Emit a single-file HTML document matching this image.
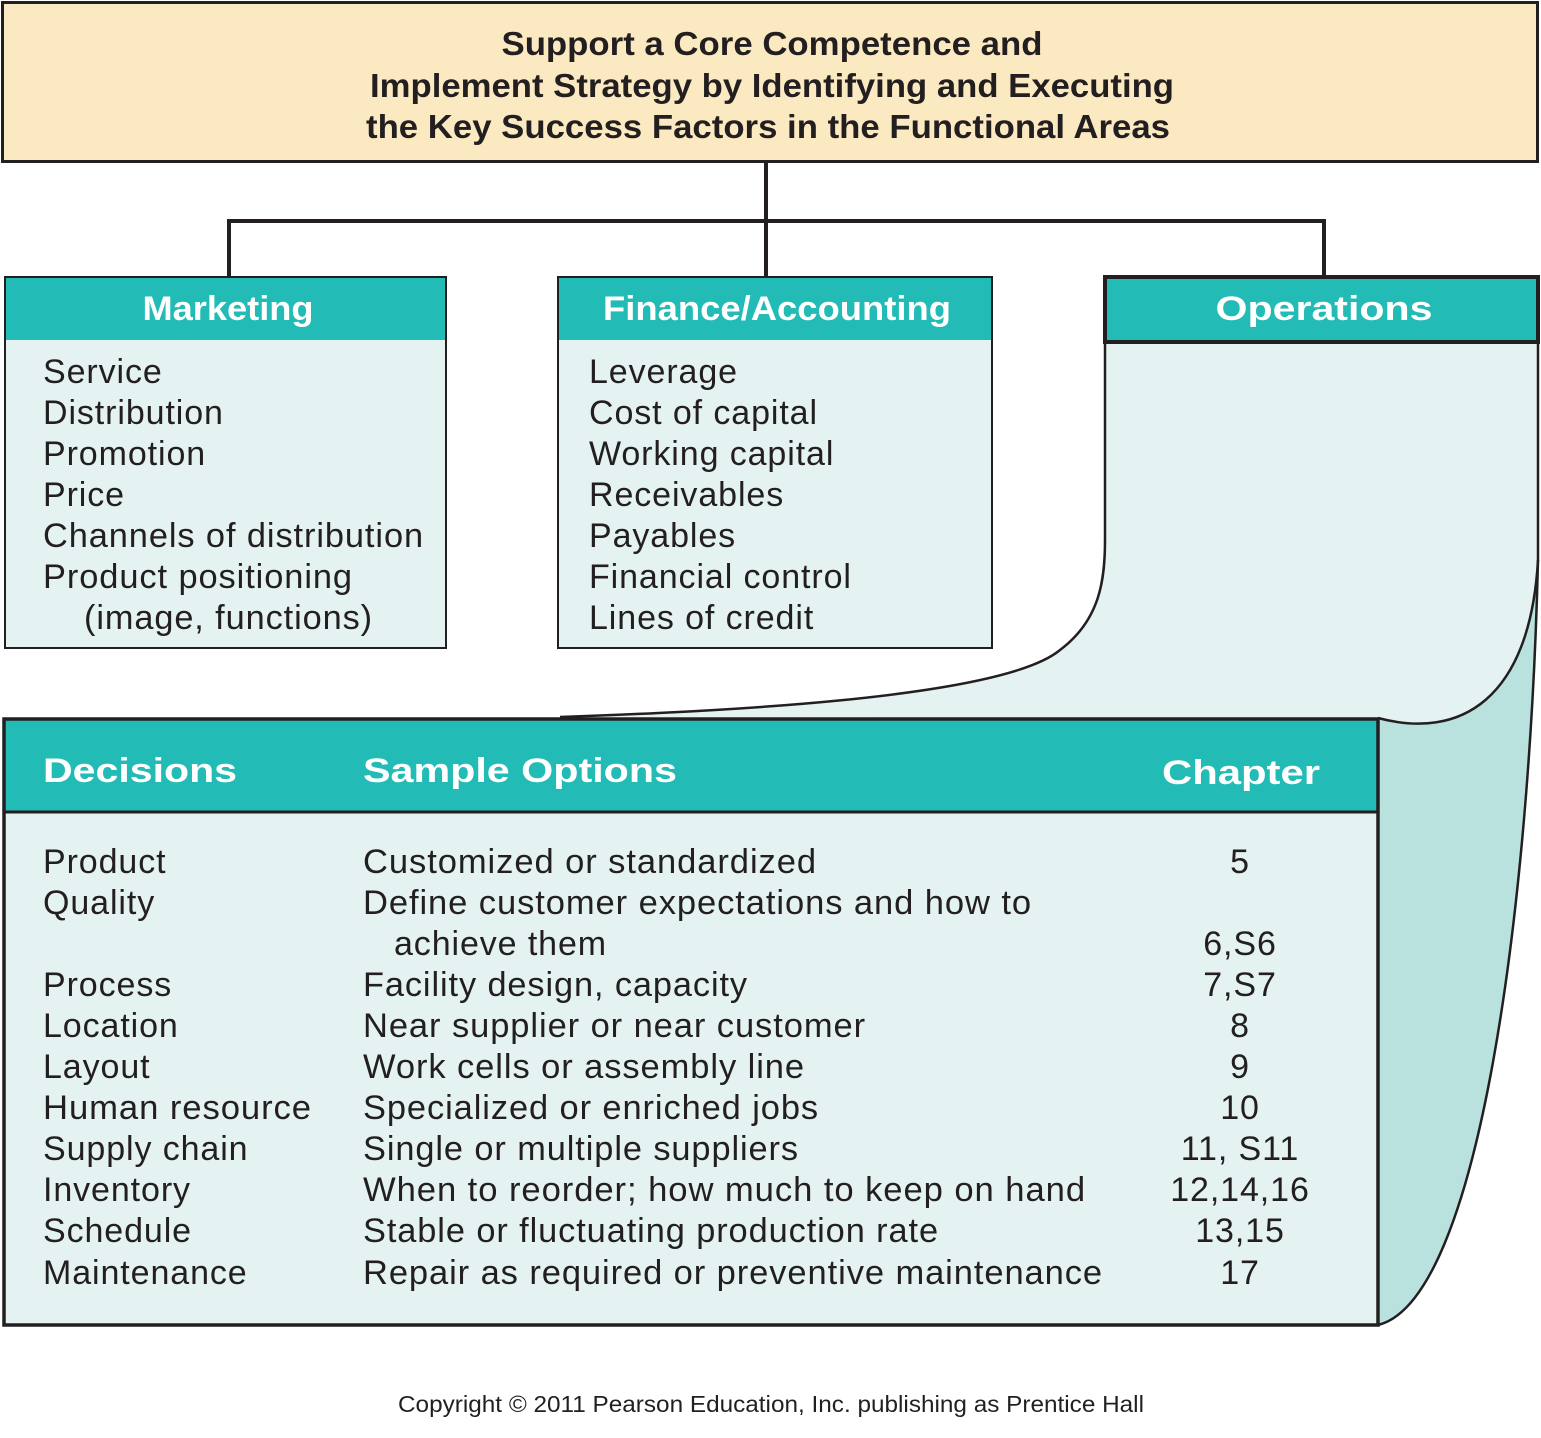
<!DOCTYPE html>
<html><head><meta charset="utf-8"><style>
html,body{margin:0;padding:0;background:#fff;}
svg{display:block;}
text{font-family:"Liberation Sans",Arial,sans-serif;fill:#231f20;}
.b{font-size:34px;letter-spacing:0.9px;}
.h{font-weight:bold;fill:#fff;font-size:34px;}
.t{font-weight:bold;font-size:33px;}
</style></head><body>
<svg width="1541" height="1438" viewBox="0 0 1541 1438" xmlns="http://www.w3.org/2000/svg">
<rect x="2.5" y="2.5" width="1535" height="159" fill="#fbeac1" stroke="#231f20" stroke-width="3"/>
<text class="t" x="772" y="55" text-anchor="middle" textLength="541" lengthAdjust="spacingAndGlyphs">Support a Core Competence and</text>
<text class="t" x="772" y="97" text-anchor="middle" textLength="804" lengthAdjust="spacingAndGlyphs">Implement Strategy by Identifying and Executing</text>
<text class="t" x="768" y="138" text-anchor="middle" textLength="804" lengthAdjust="spacingAndGlyphs">the Key Success Factors in the Functional Areas</text>
<path d="M766,162 V276 M229,276 V221 H1324 V276" fill="none" stroke="#231f20" stroke-width="4"/>
<path d="M1105,342 H1538 V560 C1530,700 1460,740 1378,718 L560,717 C700,712 1000,700 1060,650 C1100,620 1105,580 1105,540 Z" fill="#e4f2f2"/>
<path d="M1378,718 C1460,740 1530,700 1538,560 C1530,900 1480,1300 1378,1325 Z" fill="#b9e2df"/>
<path d="M1105,342 V540 C1105,580 1100,620 1060,650 C1000,700 700,712 560,717" fill="none" stroke="#231f20" stroke-width="2.5"/>
<path d="M1538,342 V560 C1530,700 1460,740 1378,718" fill="none" stroke="#231f20" stroke-width="2.5"/>
<path d="M1538,560 C1530,900 1480,1300 1378,1325" fill="none" stroke="#231f20" stroke-width="2.5"/>
<rect x="1105" y="277" width="433" height="65" fill="#22bbb5" stroke="#231f20" stroke-width="4"/>
<text class="h" x="1324" y="320" text-anchor="middle" textLength="217" lengthAdjust="spacingAndGlyphs">Operations</text>
<rect x="5" y="277" width="441" height="371" fill="#e4f2f2"/>
<rect x="5" y="277" width="441" height="63" fill="#22bbb5"/>
<rect x="5" y="277" width="441" height="371" fill="none" stroke="#231f20" stroke-width="2"/>
<text class="h" x="228" y="320" text-anchor="middle" textLength="171" lengthAdjust="spacingAndGlyphs">Marketing</text>
<text class="b" x="43" y="383">Service</text>
<text class="b" x="43" y="424">Distribution</text>
<text class="b" x="43" y="465">Promotion</text>
<text class="b" x="43" y="506">Price</text>
<text class="b" x="43" y="547" textLength="381" lengthAdjust="spacingAndGlyphs">Channels of distribution</text>
<text class="b" x="43" y="588" textLength="310" lengthAdjust="spacingAndGlyphs">Product positioning</text>
<text class="b" x="84" y="629" textLength="289" lengthAdjust="spacingAndGlyphs">(image, functions)</text>
<rect x="558" y="277" width="434" height="371" fill="#e4f2f2"/>
<rect x="558" y="277" width="434" height="63" fill="#22bbb5"/>
<rect x="558" y="277" width="434" height="371" fill="none" stroke="#231f20" stroke-width="2"/>
<text class="h" x="777" y="320" text-anchor="middle" textLength="348" lengthAdjust="spacingAndGlyphs">Finance/Accounting</text>
<text class="b" x="589" y="383">Leverage</text>
<text class="b" x="589" y="424">Cost of capital</text>
<text class="b" x="589" y="465">Working capital</text>
<text class="b" x="589" y="506">Receivables</text>
<text class="b" x="589" y="547">Payables</text>
<text class="b" x="589" y="588">Financial control</text>
<text class="b" x="589" y="629">Lines of credit</text>
<rect x="4" y="719" width="1374" height="606" fill="#e4f2f2"/>
<rect x="4" y="719" width="1374" height="93" fill="#22bbb5"/>
<line x1="4" y1="812" x2="1378" y2="812" stroke="#231f20" stroke-width="3"/>
<rect x="4" y="719" width="1374" height="606" fill="none" stroke="#231f20" stroke-width="3.5"/>
<text class="h" x="43" y="782" textLength="194" lengthAdjust="spacingAndGlyphs">Decisions</text>
<text class="h" x="363" y="782" textLength="314" lengthAdjust="spacingAndGlyphs">Sample Options</text>
<text class="h" x="1162" y="784" textLength="158" lengthAdjust="spacingAndGlyphs">Chapter</text>
<text class="b" x="43" y="873">Product</text>
<text class="b" x="43" y="914">Quality</text>
<text class="b" x="43" y="996">Process</text>
<text class="b" x="43" y="1037">Location</text>
<text class="b" x="43" y="1078">Layout</text>
<text class="b" x="43" y="1119" textLength="269" lengthAdjust="spacingAndGlyphs">Human resource</text>
<text class="b" x="43" y="1160">Supply chain</text>
<text class="b" x="43" y="1201">Inventory</text>
<text class="b" x="43" y="1242">Schedule</text>
<text class="b" x="43" y="1284">Maintenance</text>
<text class="b" x="363" y="873" textLength="454" lengthAdjust="spacingAndGlyphs">Customized or standardized</text>
<text class="b" x="363" y="914" textLength="669" lengthAdjust="spacingAndGlyphs">Define customer expectations and how to</text>
<text class="b" x="394" y="955">achieve them</text>
<text class="b" x="363" y="996" textLength="385" lengthAdjust="spacingAndGlyphs">Facility design, capacity</text>
<text class="b" x="363" y="1037" textLength="503" lengthAdjust="spacingAndGlyphs">Near supplier or near customer</text>
<text class="b" x="363" y="1078" textLength="442" lengthAdjust="spacingAndGlyphs">Work cells or assembly line</text>
<text class="b" x="363" y="1119" textLength="456" lengthAdjust="spacingAndGlyphs">Specialized or enriched jobs</text>
<text class="b" x="363" y="1160" textLength="436" lengthAdjust="spacingAndGlyphs">Single or multiple suppliers</text>
<text class="b" x="363" y="1201" textLength="723" lengthAdjust="spacingAndGlyphs">When to reorder; how much to keep on hand</text>
<text class="b" x="363" y="1242" textLength="576" lengthAdjust="spacingAndGlyphs">Stable or fluctuating production rate</text>
<text class="b" x="363" y="1284" textLength="740" lengthAdjust="spacingAndGlyphs">Repair as required or preventive maintenance</text>
<text class="b" x="1240" y="873" text-anchor="middle">5</text>
<text class="b" x="1240" y="955" text-anchor="middle">6,S6</text>
<text class="b" x="1240" y="996" text-anchor="middle">7,S7</text>
<text class="b" x="1240" y="1037" text-anchor="middle">8</text>
<text class="b" x="1240" y="1078" text-anchor="middle">9</text>
<text class="b" x="1240" y="1119" text-anchor="middle">10</text>
<text class="b" x="1240" y="1160" text-anchor="middle">11, S11</text>
<text class="b" x="1240" y="1201" text-anchor="middle">12,14,16</text>
<text class="b" x="1240" y="1242" text-anchor="middle">13,15</text>
<text class="b" x="1240" y="1284" text-anchor="middle">17</text>
<text x="771" y="1412" text-anchor="middle" font-size="23" textLength="746" lengthAdjust="spacingAndGlyphs">Copyright © 2011 Pearson Education, Inc. publishing as Prentice Hall</text>
</svg>
</body></html>
